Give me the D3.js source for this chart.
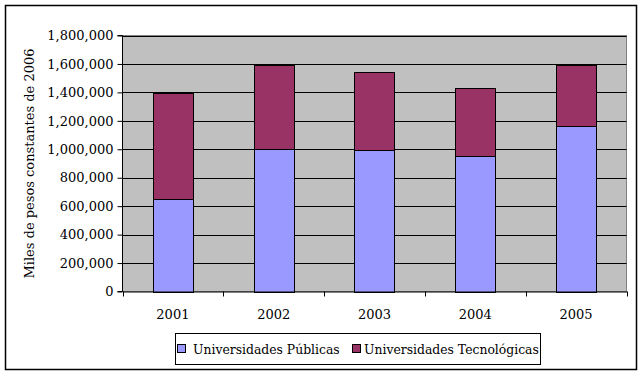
<!DOCTYPE html>
<html><head><meta charset="utf-8">
<script src="https://cdn.jsdelivr.net/npm/d3@7"></script>
<style>body{margin:0;background:#fff}svg{display:block}</style>
</head><body>
<script>
const categories = ["2001","2002","2003","2004","2005"];
const publicas = [647000, 1005000, 998000, 952000, 1167000];
const tecnologicas = [748000, 587000, 542000, 482000, 425000];
const seriesNames = ["Universidades Públicas","Universidades Tecnológicas"];
const seriesColors = ["#9999ff","#993366"];
const yTicks = [0,200000,400000,600000,800000,1000000,1200000,1400000,1600000,1800000];

const W=641,H=374;
const font="DejaVu Serif";
const svg=d3.select("body").append("svg").attr("width",W).attr("height",H);
svg.append("rect").attr("x",5.5).attr("y",5.5).attr("width",631).attr("height",364)
  .attr("fill","#fff").attr("stroke","#000").attr("stroke-width",1.5);

const L=122.5,R=626.5,T=35.5,B=291.5;
const x=d3.scaleBand().domain(categories).range([L,R]).paddingInner(0.6).paddingOuter(0.3);
const xb=d3.scaleBand().domain(categories).range([L,R]);
const y=d3.scaleLinear().domain([0,1800000]).range([B,T]);

svg.append("rect").attr("x",L).attr("y",T).attr("width",R-L).attr("height",B-T)
  .attr("fill","#c0c0c0").attr("stroke","#808080").attr("stroke-width",1);

svg.append("g").selectAll("line").data(yTicks.slice(1)).join("line")
  .attr("x1",L).attr("x2",R).attr("y1",d=>Math.round(y(d))+0.5).attr("y2",d=>Math.round(y(d))+0.5)
  .attr("stroke","#000").attr("stroke-width",1);

const stack=d3.stack().keys([0,1]).value((d,k)=>k===0?d.p:d.t);
const rows=categories.map((c,i)=>({c,p:publicas[i],t:tecnologicas[i]}));
const stacked=stack(rows);
stacked.forEach((s,si)=>{
  svg.append("g").selectAll("rect").data(s).join("rect")
    .attr("x",d=>Math.round(x(d.data.c))+0.5)
    .attr("y",d=>Math.round(y(d[1]))+0.5)
    .attr("width",Math.round(x.bandwidth()))
    .attr("height",d=>Math.round(y(d[0]))-Math.round(y(d[1])))
    .attr("fill",seriesColors[si]).attr("stroke","#000").attr("stroke-width",1);
});

const ya=d3.axisLeft(y).tickValues(yTicks).tickSize(5).tickPadding(4).tickFormat(d3.format(","));
const gy=svg.append("g").attr("transform",`translate(${L},0)`).call(ya);
gy.select(".domain").attr("stroke","#000").attr("d",`M-5,${B}H0V${T}H-5`);
gy.selectAll(".tick line").attr("stroke","#000");
gy.selectAll("text").attr("font-family",font).attr("font-size",13).attr("fill","#000");

const xa=d3.axisBottom(xb).tickSize(0).tickPadding(18);
const gx=svg.append("g").attr("transform",`translate(0,${B})`).call(xa);
gx.select(".domain").attr("stroke","#000");
gx.selectAll("text").attr("font-family",font).attr("font-size",13).attr("fill","#000");
gx.append("g").selectAll("line").data(categories.concat(["end"])).join("line")
  .attr("x1",(d,i)=>Math.round(L+i*xb.step())+0.5).attr("x2",(d,i)=>Math.round(L+i*xb.step())+0.5)
  .attr("y1",0).attr("y2",5).attr("stroke","#000");

svg.append("text").attr("transform",`translate(34,${(T+B)/2}) rotate(-90)`)
  .attr("text-anchor","middle").attr("font-family",font).attr("font-size",13)
  .text("Miles de pesos constantes de 2006");

const lg=svg.append("g");
lg.append("rect").attr("x",175.5).attr("y",333.5).attr("width",365).attr("height",31)
  .attr("fill","#fff").attr("stroke","#000").attr("stroke-width",1);
const lx=[177,352];
const tx=[193,364];
seriesNames.forEach((n,i)=>{
  lg.append("rect").attr("x",lx[i]+0.5).attr("y",344.5).attr("width",8).attr("height",8)
    .attr("fill",seriesColors[i]).attr("stroke","#000");
  lg.append("text").attr("x",tx[i]).attr("y",353.5).attr("font-family",font).attr("font-size",12.4).text(n);
});
</script>
</body></html>
